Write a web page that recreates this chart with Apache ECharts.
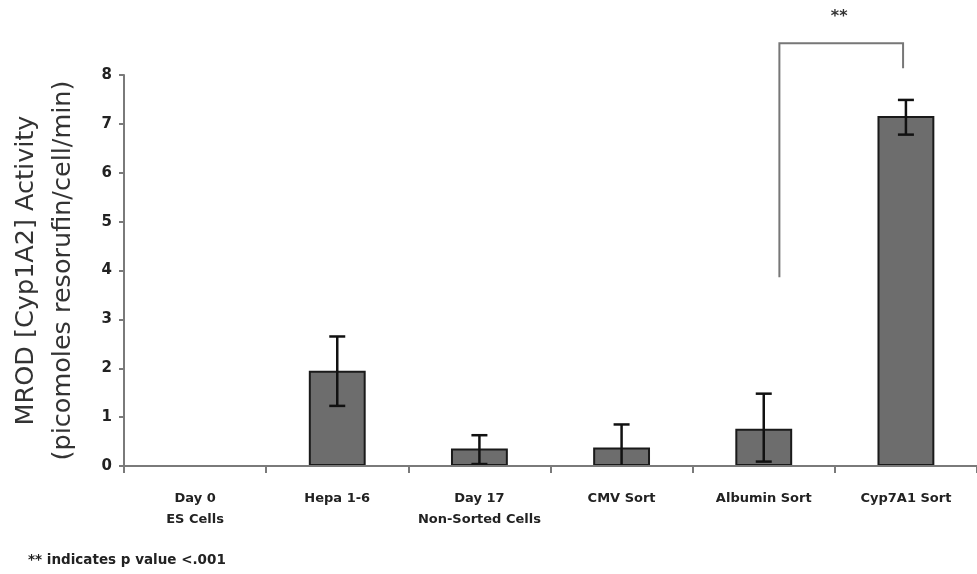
<!DOCTYPE html>
<html>
<head>
<meta charset="utf-8">
<script src="https://cdn.jsdelivr.net/npm/echarts@6/dist/echarts.min.js"></script>
<style>
  html, body { margin: 0; padding: 0; background: #fff; }
  #chart { width: 977px; height: 574px; }
</style>
</head>
<body>
<div id="chart"></div>
<script>
// MROD activity per cell population
const categories = ['Day 0\nES Cells', 'Hepa 1-6', 'Day 17\nNon-Sorted Cells', 'CMV Sort', 'Albumin Sort', 'Cyp7A1 Sort'];
const activity = [0, 1.95, 0.36, 0.38, 0.76, 7.16];
const errLow = [0, 0.72, 0.32, 0.47, 0.67, 0.38];
const errHigh = [0, 0.70, 0.27, 0.47, 0.72, 0.33];
const yTicks = [0, 1, 2, 3, 4, 5, 6, 7, 8];

// significance bracket: from Albumin Sort to Cyp7A1 Sort
const bracketFrom = 4;
const bracketTo = 5;
const bracketLevels = [3.86, 8.65, 8.14]; // left foot, top bar, right foot
const bracketMark = '**';
const footnote = '** indicates p value <.001';

const FONT = '"DejaVu Sans", sans-serif';
const chart = echarts.init(document.getElementById('chart'));

const errorData = categories.map((c, i) => [i, activity[i] - errLow[i], activity[i] + errHigh[i]]);

chart.setOption({
  animation: false,
  backgroundColor: '#fff',
  grid: { left: 123, right: 0, top: 75, bottom: 108 },
  xAxis: {
    type: 'category',
    data: categories,
    axisLine: { lineStyle: { color: '#7a7a7a', width: 2 } },
    axisTick: { show: true, interval: 0, length: 7, lineStyle: { color: '#7a7a7a', width: 2 } },
    axisLabel: {
      interval: 0, margin: 22, color: '#222', fontFamily: FONT, fontWeight: 'bold',
      fontSize: 13, lineHeight: 21
    },
    z: 10
  },
  yAxis: {
    type: 'value',
    min: yTicks[0], max: yTicks[yTicks.length - 1], interval: 1,
    name: 'MROD [Cyp1A2] Activity\n(picomoles resorufin/cell/min)',
    nameLocation: 'middle',
    nameGap: 42,
    nameTextStyle: { fontFamily: FONT, fontSize: 25.5, lineHeight: 37, color: '#333' },
    axisLine: { show: true, lineStyle: { color: '#7a7a7a', width: 2 } },
    axisTick: { show: true, length: 5, lineStyle: { color: '#7a7a7a', width: 2 } },
    axisLabel: { margin: 12, color: '#222', fontFamily: FONT, fontWeight: 'bold', fontSize: 15 },
    splitLine: { show: false }
  },
  graphic: [{
    type: 'text', left: 28, top: 553,
    style: { text: footnote, font: 'bold 13.5px ' + FONT, fill: '#222' }
  }],
  series: [
    {
      type: 'bar',
      data: activity,
      barWidth: '40%',
      itemStyle: { color: '#6d6d6d', borderColor: '#1a1a1a', borderWidth: 2 },
      z: 2
    },
    {
      type: 'custom',
      data: errorData,
      clip: true,
      z: 5,
      renderItem(params, api) {
        const i = api.value(0);
        const lo = api.value(1), hi = api.value(2);
        if (hi - lo <= 0) return null;
        const pLo = api.coord([i, lo]);
        const pHi = api.coord([i, hi]);
        const w = 8;
        const st = { stroke: '#111', lineWidth: 2.5 };
        return {
          type: 'group',
          children: [
            { type: 'line', shape: { x1: pLo[0], y1: pLo[1], x2: pHi[0], y2: pHi[1] }, style: st },
            { type: 'line', shape: { x1: pHi[0] - w, y1: pHi[1], x2: pHi[0] + w, y2: pHi[1] }, style: st },
            { type: 'line', shape: { x1: pLo[0] - w, y1: pLo[1], x2: pLo[0] + w, y2: pLo[1] }, style: st }
          ]
        };
      }
    },
    {
      type: 'custom',
      data: [[bracketFrom, bracketTo]],
      clip: false,
      z: 6,
      renderItem(params, api) {
        const band = api.size([1, 0])[0];
        const a = api.coord([api.value(0), bracketLevels[1]]);
        const b = api.coord([api.value(1), bracketLevels[1]]);
        const xl = a[0] + band * 0.11;
        const xr = b[0] - band * 0.02;
        const yFootL = api.coord([api.value(0), bracketLevels[0]])[1];
        const yFootR = api.coord([api.value(1), bracketLevels[2]])[1];
        const yTop = a[1];
        return {
          type: 'group',
          children: [
            {
              type: 'polyline',
              shape: { points: [[xl, yFootL], [xl, yTop], [xr, yTop], [xr, yFootR]] },
              style: { stroke: '#777', lineWidth: 2, fill: null }
            },
            {
              type: 'text',
              x: (xl + xr) / 2 - 2, y: yTop - 26,
              style: { text: bracketMark, font: 'bold 16px ' + FONT, fill: '#333', align: 'center', verticalAlign: 'middle' }
            }
          ]
        };
      }
    }
  ]
});
</script>
</body>
</html>
